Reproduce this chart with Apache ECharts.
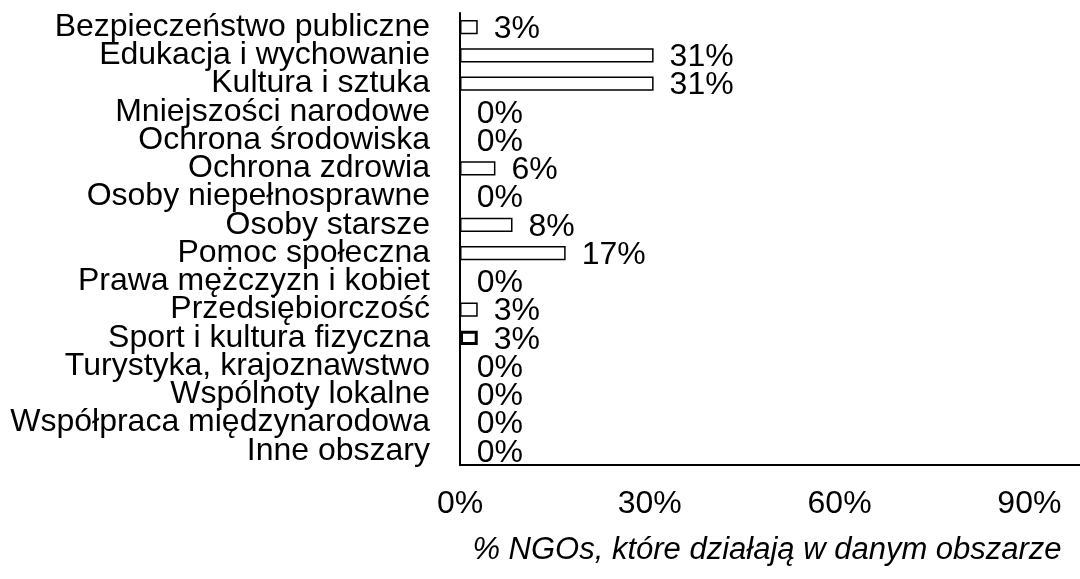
<!DOCTYPE html>
<html>
<head>
<meta charset="utf-8">
<script src="https://cdn.jsdelivr.net/npm/echarts@6/dist/echarts.min.js"></script>
<style>
html,body{margin:0;padding:0;background:#fff;}
#chart{width:1080px;height:579px;}
</style>
</head>
<body>
<div id="chart"></div>
<script>
const categories = [
  'Bezpieczeństwo publiczne',
  'Edukacja i wychowanie',
  'Kultura i sztuka',
  'Mniejszości narodowe',
  'Ochrona środowiska',
  'Ochrona zdrowia',
  'Osoby niepełnosprawne',
  'Osoby starsze',
  'Pomoc społeczna',
  'Prawa mężczyzn i kobiet',
  'Przedsiębiorczość',
  'Sport i kultura fizyczna',
  'Turystyka, krajoznawstwo',
  'Wspólnoty lokalne',
  'Współpraca międzynarodowa',
  'Inne obszary'
];
const values = [2.8, 30.6, 30.6, 0, 0, 5.6, 0, 8.3, 16.7, 0, 2.8, 2.8, 0, 0, 0, 0];
const xTicks = [0, 30, 60, 90];
const axisTitle = '% NGOs, które działają w danym obszarze';

const FONT = 'Liberation Sans, Arial, sans-serif';
const boldIndex = 11;

const seriesData = values.map((v, i) => ({
  value: v,
  itemStyle: i === boldIndex ? { borderWidth: 3 } : undefined
}));

const chart = echarts.init(document.getElementById('chart'), null, { renderer: 'canvas' });
chart.setOption({
  animation: false,
  backgroundColor: '#fff',
  grid: { left: 460, right: 0, top: 13, bottom: 114, containLabel: false },
  xAxis: {
    type: 'value',
    min: 0,
    max: 98,
    interval: 30,
    axisLine: { show: true, lineStyle: { color: '#000', width: 2 } },
    axisTick: { show: false },
    splitLine: { show: false },
    axisLabel: {
      color: '#000', fontSize: 32, fontFamily: FONT, margin: 23,
      showMaxLabel: false,
      formatter: v => (xTicks.indexOf(v) >= 0 ? v + '%' : '')
    },
    name: axisTitle,
    nameLocation: 'middle',
    nameGap: 70,
    nameTextStyle: { color: '#000', fontSize: 31, fontStyle: 'italic', fontFamily: FONT, padding: [0, 6, 0, 0] }
  },
  yAxis: {
    type: 'category',
    data: categories,
    inverse: true,
    axisLine: { show: true, lineStyle: { color: '#000', width: 2 } },
    axisTick: { show: false },
    axisLabel: { color: '#000', fontSize: 32, fontFamily: FONT, margin: 30, interval: 0, lineHeight: 30, padding: [4, 0, 0, 0] }
  },
  series: [{
    type: 'bar',
    data: seriesData,
    barCategoryGap: '50%',
    itemStyle: { color: '#fff', borderColor: '#000', borderWidth: 1.5 },
    label: {
      show: true,
      position: 'right',
      distance: 16,
      color: '#000',
      fontSize: 32,
      fontFamily: FONT,
      offset: [0, 2],
      formatter: p => Math.round(p.value) + '%'
    }
  }]
});
</script>
</body>
</html>
